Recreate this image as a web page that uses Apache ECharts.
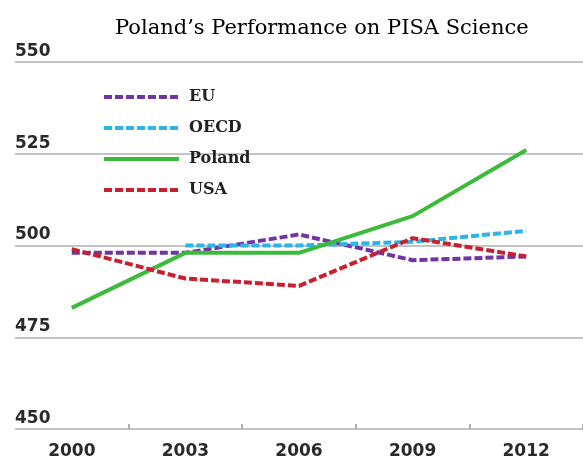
<!DOCTYPE html>
<html>
<head>
<meta charset="UTF-8">
<title>PISA Science</title>
<script src="https://cdn.jsdelivr.net/npm/echarts@6/dist/echarts.min.js"></script>
<style>
  html, body { margin: 0; padding: 0; background: #fff; }
  #main { width: 583px; height: 460px; }
</style>
</head>
<body>
<div id="main"></div>
<script>
// data
var years = ['2000', '2003', '2006', '2009', '2012'];
var eu = [498, 498, 503, 496, 497];
var oecd = [null, 500, 500, 501, 504];
var poland = [483, 498, 498, 508, 526];
var usa = [499, 491, 489, 502, 497];
var yTicks = [450, 475, 500, 525, 550];

var chart = echarts.init(document.getElementById('main'));

function dashed(name, data, color) {
  return {
    name: name,
    type: 'line',
    data: data,
    symbol: 'none',
    lineStyle: { color: color, width: 4, type: [8, 3] },
    itemStyle: { color: color }
  };
}

var option = {
  animation: false,
  title: {
    text: 'Poland\u2019s Performance on PISA Science',
    left: 110,
    top: 13,
    textStyle: { fontFamily: 'DejaVu Serif', fontSize: 21, fontWeight: 'normal', color: '#000' }
  },
  legend: {
    orient: 'vertical',
    left: 97,
    top: 84,
    itemWidth: 75,
    itemHeight: 14,
    itemGap: 15,
    itemStyle: { opacity: 0 },
    lineStyle: { width: 4 },
    textStyle: { fontFamily: 'DejaVu Serif', fontSize: 16, lineHeight: 14, height: 14, fontWeight: 'bold', color: '#222', padding: [0, 0, 0, 5] },
    data: ['EU', 'OECD', 'Poland', 'USA']
  },
  grid: { left: 15, right: -4, top: 62, bottom: 31 },
  xAxis: {
    type: 'category',
    data: years,
    boundaryGap: true,
    axisLine: { show: false },
    axisTick: { show: true, inside: true, length: 5, lineStyle: { color: '#999', width: 1.5 },
                interval: function (i) { return i > 0 && i < years.length; } },
    axisLabel: { margin: 14, fontFamily: 'DejaVu Sans', fontSize: 17, fontWeight: 'bold', color: '#2a2a2a' }
  },
  yAxis: {
    type: 'value',
    min: yTicks[0],
    max: yTicks[yTicks.length - 1],
    interval: 25,
    axisLine: { show: false },
    axisTick: { show: false },
    splitLine: { show: true, lineStyle: { color: '#c4c4c4', width: 2 } },
    axisLabel: {
      inside: true, margin: 0, verticalAlign: 'bottom', align: 'left',
      padding: [0, 0, 2, 0],
      fontFamily: 'DejaVu Sans', fontSize: 17, fontWeight: 'bold', color: '#2a2a2a'
    }
  },
  series: [
    dashed('EU', eu, '#7034a4'),
    dashed('OECD', oecd, '#2db4ea'),
    {
      name: 'Poland',
      type: 'line',
      data: poland,
      symbol: 'none',
      lineStyle: { color: '#3cba3c', width: 4 },
      itemStyle: { color: '#3cba3c' }
    },
    dashed('USA', usa, '#c8202f')
  ]
};

chart.setOption(option);
</script>
</body>
</html>
